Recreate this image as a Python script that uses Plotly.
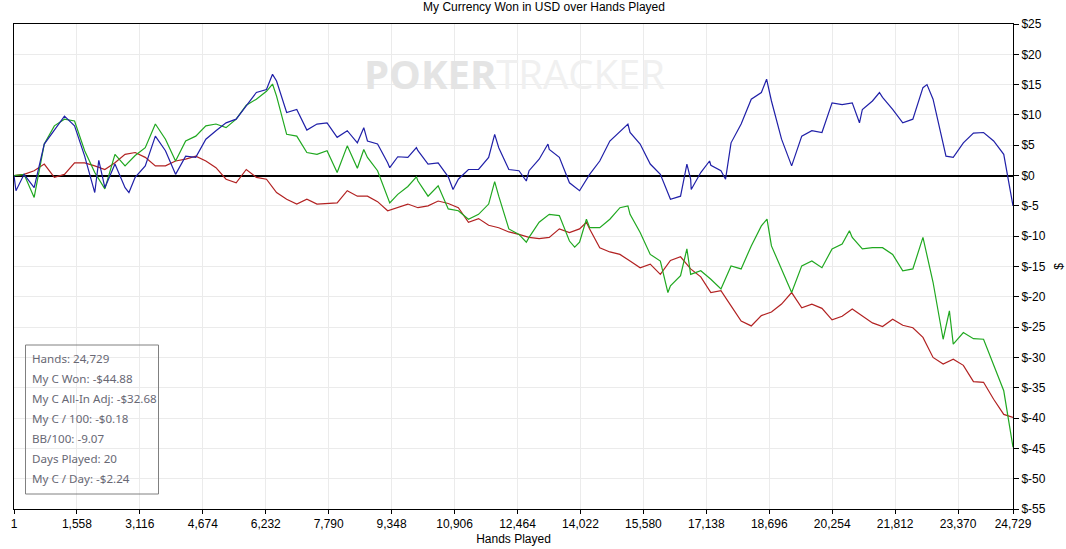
import plotly.graph_objects as go

hands = [
    1, 250, 500, 750, 1000, 1250, 1500, 1750, 2000, 2250,
    2500, 2750, 3000, 3250, 3500, 3750, 4000, 4250, 4500, 4750,
    5000, 5250, 5500, 5750, 6000, 6250, 6500, 6750, 7000, 7250,
    7500, 7750, 8000, 8250, 8500, 8750, 9000, 9250, 9500, 9750,
    10000, 10250, 10500, 10750, 11000, 11250, 11500, 11750, 12000, 12250,
    12500, 12750, 13000, 13250, 13500, 13750, 14000, 14250, 14500, 14750,
    15000, 15250, 15500, 15750, 16000, 16250, 16500, 16750, 17000, 17250,
    17500, 17750, 18000, 18250, 18500, 18750, 19000, 19250, 19500, 19750,
    20000, 20250, 20500, 20750, 21000, 21250, 21500, 21750, 22000, 22250,
    22500, 22750, 23000, 23250, 23500, 23750, 24000, 24250, 24500, 24729,
]

blue_usd = [
    0, 0.2, -2.0, 5.2, 7.6, 9.8, 8.2, 3.2, -2.8, -2.0,
    1.9, -2.0, -0.3, 1.6, 6.5, 4.1, 0.2, 3.2, 3.0, 6.0,
    7.4, 8.7, 9.3, 11.5, 13.7, 14.2, 15.6, 10.4, 10.9, 7.5,
    8.5, 8.7, 6.3, 7.4, 5.4, 5.7, 5.2, 2.1, 3.1, 3.0,
    4.1, 1.9, 2.1, -0.2, -0.6, 1.0, 1.0, 3.0, 4.6, 1.0,
    0.8, 0.8, 2.7, 4.3, 3.0, -1.2, -2.5, 0.2, 2.4, 5.7,
    7.2, 7.1, 5.2, 1.9, 0.2, -3.9, -3.4, -0.6, 0.5, 1.7,
    0.8, 5.4, 8.5, 12.6, 13.7, 12.3, 6.0, 1.6, 6.5, 7.4,
    7.1, 12.0, 11.7, 12.0, 10.9, 12.3, 12.9, 10.9, 8.7, 9.3,
    14.5, 12.6, 5.4, 3.0, 5.4, 7.0, 7.1, 5.7, 3.5, -5.0,
]
# extra turning points of the blue line
blue_peak_hands = [50, 2100, 2846, 6400, 8659, 9302, 9962, 10868, 11899, 12682,
                   13218, 15197, 16657, 16764, 17218, 17614, 18630, 20929, 21423,
                   22600, 23070]
blue_peak_usd = [-2.5, 2.5, -2.8, 16.7, 7.9, 1.3, 4.6, -2.3, 6.8, -0.9,
                 5.2, 8.5, 1.9, -2.3, 2.4, -0.6, 15.9, 8.7, 13.7,
                 15.0, 3.2]

green_usd = [
    0, 0.2, -3.6, 5.2, 8.2, 9.3, 9.0, 4.1, 0.5, -2.2,
    3.5, 1.6, 3.3, 4.6, 8.5, 6.0, 2.4, 5.7, 6.5, 8.2,
    8.5, 7.9, 9.3, 11.6, 12.6, 13.9, 13.1, 6.8, 6.5, 3.8,
    3.5, 4.1, 0.5, 4.9, 1.2, 3.0, 0.8, -3.4, -3.1, -1.8,
    -0.9, -3.4, -1.7, -5.5, -5.8, -7.2, -6.4, -4.7, -3.4, -8.8,
    -9.7, -10.2, -7.7, -6.4, -6.6, -10.8, -11.0, -8.6, -8.6, -7.2,
    -5.3, -6.4, -9.4, -13.0, -14.1, -18.2, -16.5, -16.3, -15.7, -17.1,
    -18.7, -14.9, -15.4, -11.6, -8.3, -11.6, -15.4, -19.3, -14.9, -14.1,
    -15.2, -12.1, -11.3, -10.2, -12.1, -11.9, -11.9, -13.0, -15.7, -15.4,
    -10.2, -17.6, -27.0, -27.8, -25.9, -26.9, -27.0, -31.1, -35.5, -44.8,
]
green_peak_hands = [6400, 8659, 9302, 9962, 11899, 12682, 13880, 14170, 15197, 16187,
                    16657, 18640, 20680, 23155]
green_peak_usd = [15.1, 4.3, -4.5, -0.2, -1.0, -11.0, -11.8, -7.2, -5.0, -19.3,
                  -12.1, -7.2, -9.1, -22.3]

red_usd = [
    0, 0.2, 0.8, 1.9, -0.3, 0.2, 2.1, 2.1, 1.6, 1.0,
    2.1, 3.5, 3.8, 3.0, 1.6, 1.6, 2.4, 2.7, 3.2, 2.4,
    1.3, -0.6, -1.2, 1.0, -0.3, -0.6, -2.8, -3.9, -4.7, -3.9,
    -4.7, -4.6, -4.5, -2.5, -3.4, -3.4, -4.3, -5.8, -5.3, -4.7,
    -5.3, -5.0, -4.2, -4.6, -5.3, -7.7, -7.1, -8.2, -8.6, -9.3,
    -9.7, -10.2, -10.4, -10.2, -8.8, -9.4, -8.8, -8.8, -11.9, -12.6,
    -13.0, -14.1, -15.2, -14.6, -16.3, -14.0, -13.4, -15.4, -16.7, -19.3,
    -19.0, -21.5, -24.0, -24.8, -23.1, -22.5, -21.2, -19.3, -21.8, -21.2,
    -21.9, -23.8, -23.2, -22.0, -23.2, -24.3, -24.9, -23.7, -24.7, -25.1,
    -26.7, -30.0, -31.1, -30.3, -31.3, -34.0, -34.1, -36.9, -39.4, -39.9,
]
red_peak_hands = [14170]
red_peak_usd = [-7.7]

x_ticks = [1, 1558, 3116, 4674, 6232, 7790, 9348, 10906, 12464, 14022,
           15580, 17138, 18696, 20254, 21812, 23370, 24729]
y_ticks = [25, 20, 15, 10, 5, 0, -5, -10, -15, -20, -25, -30, -35, -40, -45, -50, -55]

stats = [
    "Hands: 24,729",
    "My C Won: -$44.88",
    "My C All-In Adj: -$32.68",
    "My C / 100: -$0.18",
    "BB/100: -9.07",
    "Days Played: 20",
    "My C / Day: -$2.24",
]

W, H = 1066, 549
L, R, T, B = 14, 53, 24, 40
pw, ph = W - L - R, H - T - B

def px(x):
    return (x - L) / pw

def py(y):
    return (H - B - y) / ph

def merged(h, v, eh, ev):
    pts = sorted(zip(h + eh, v + ev))
    return [p[0] for p in pts], [p[1] for p in pts]

series = [
    (red_usd, red_peak_hands, red_peak_usd, "#b22222"),
    (green_usd, green_peak_hands, green_peak_usd, "#20a820"),
    (blue_usd, blue_peak_hands, blue_peak_usd, "#2020a8"),
]

fig = go.Figure()
for vals, eh, ev, col in series:
    xs, ys = merged(hands, vals, eh, ev)
    fig.add_trace(go.Scatter(x=xs, y=ys, mode="lines",
                             line=dict(color=col, width=1.2), showlegend=False))

fnt = "Liberation Sans, Arial, sans-serif"

fig.update_layout(
    width=W, height=H,
    margin=dict(l=L, r=R, t=T, b=B, autoexpand=False),
    paper_bgcolor="white", plot_bgcolor="white",
    font=dict(family=fnt, size=12, color="black"),
    title=dict(text="My Currency Won in USD over Hands Played",
               x=544 / W, xanchor="center", y=1 - 7 / H, yanchor="middle",
               font=dict(size=12, color="black")),
)

fig.update_xaxes(
    range=[1, 24729], tickvals=x_ticks, ticktext=[f"{v:,}" for v in x_ticks],
    showgrid=True, gridcolor="#ebebeb", gridwidth=1,
    showline=True, linecolor="black", linewidth=1, mirror=True,
    ticks="outside", ticklen=4, tickcolor="black", automargin=False,
    title=dict(text="Hands Played", standoff=4, font=dict(size=12)),
    zeroline=False,
)
fig.update_yaxes(
    range=[-55, 25], side="right", tickvals=y_ticks, ticktext=[f"${v}" for v in y_ticks],
    showgrid=True, gridcolor="#ebebeb", gridwidth=1,
    showline=True, linecolor="black", linewidth=1, mirror=True,
    ticks="outside", ticklen=5, tickcolor="black", automargin=False,
    zeroline=True, zerolinecolor="black", zerolinewidth=1.5,
    title=dict(text="$", standoff=9, font=dict(size=12)),
)

# watermark
fig.add_annotation(
    text="<b><span style='color:#e4e4e4'>POKER</span></b><span style='color:#f0f0f0'>TRACKER</span>",
    xref="paper", yref="paper",
    x=px(514), y=py(74), xanchor="center", yanchor="middle", showarrow=False,
    font=dict(family="Open Sans, sans-serif", size=40, color="#ececec"),
)

# stats box
fig.add_shape(type="rect", xref="paper", yref="paper",
              x0=px(25.5), x1=px(158.5), y0=py(494), y1=py(345),
              line=dict(color="#808080", width=1), fillcolor="rgba(255,255,255,0)")
for i, s in enumerate(stats):
    fig.add_annotation(
        text=s, xref="paper", yref="paper", x=px(30), y=py(358 + 20 * i),
        xanchor="left", yanchor="middle", showarrow=False,
        font=dict(family="Noto Sans, Open Sans, sans-serif", size=11.6, color="#686874"),
    )

fig.write_html("out.html", config={"displayModeBar": False},
               post_script="document.body.style.margin='0';")
